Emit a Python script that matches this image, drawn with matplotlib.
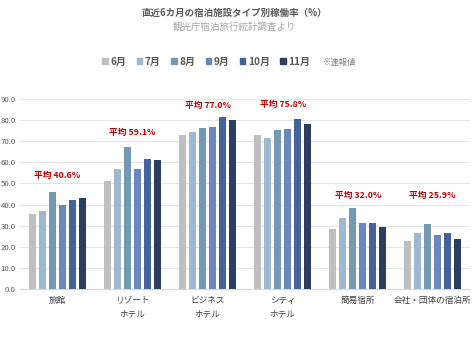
import matplotlib
matplotlib.use("Agg")
import matplotlib.pyplot as plt
import numpy as np
from matplotlib.patches import Patch

plt.rcParams["font.family"] = ["Noto Sans CJK JP", "DejaVu Sans"]

categories = ["旅館", "リゾート\nホテル", "ビジネス\nホテル", "シティ\nホテル", "簡易宿所", "会社・団体の宿泊所"]
months = ["6月", "7月", "8月", "9月", "10月", "11月"]
rates = {
    "6月": [35.3, 51.0, 72.8, 72.8, 28.3, 22.7],
    "7月": [37.1, 56.9, 74.6, 71.7, 33.5, 26.5],
    "8月": [46.1, 67.1, 76.3, 75.5, 38.4, 30.8],
    "9月": [39.8, 56.9, 76.8, 75.8, 31.1, 25.4],
    "10月": [42.2, 61.5, 81.4, 80.6, 31.3, 26.5],
    "11月": [43.0, 61.0, 80.1, 78.4, 29.5, 23.5],
}
averages = [40.6, 59.1, 77.0, 75.8, 32.0, 25.9]
avg_label_y = [53.6, 74.0, 86.8, 87.2, 44.5, 44.5]
yticks = [0, 10, 20, 30, 40, 50, 60, 70, 80, 90]

colors = ["#bfbfbf", "#9db8d0", "#7399b3", "#6a88bd", "#45629a", "#2c3e5f"]

fig = plt.figure(figsize=(4.74, 3.41), dpi=100)
ax = fig.add_axes([0.042, 0.1525, 0.95, 0.557])

x = np.arange(len(categories))
step = 0.1333
width = 0.1
for i, m in enumerate(months):
    ax.bar(x + (i - 2.5) * step, rates[m], width, color=colors[i], zorder=3)

for xi, avg, ly in zip(x, averages, avg_label_y):
    ax.text(xi, ly, f"平均 {avg:.1f}%", ha="center", va="center",
            color="#c00000", fontsize=6.3, fontweight="bold")

ax.set_xlim(-0.5, len(categories) - 0.5)
ax.set_ylim(0, 90)
ax.set_yticks(yticks)
ax.set_yticklabels([f"{v:.1f}" for v in yticks])
ax.set_xticks(x)
ax.set_xticklabels(categories, linespacing=1.65)
ax.tick_params(axis="y", length=0, labelsize=5.6, labelcolor="#595959", pad=3)
ax.tick_params(axis="x", length=0, labelsize=6.2, labelcolor="#404040", pad=5)
ax.grid(axis="y", color="#e6e6e6", linewidth=0.8, zorder=0)
for s in ["top", "right", "left"]:
    ax.spines[s].set_visible(False)
ax.spines["bottom"].set_color("#d9d9d9")
ax.spines["bottom"].set_linewidth(0.8)

fig.text(0.495, 1 - 13 / 341, "直近6カ月の宿泊施設タイプ別稼働率（%）", ha="center", va="center",
         fontsize=6.8, fontweight="bold", color="#595959")
fig.text(0.495, 1 - 27 / 341, "観光庁宿泊旅行統計調査より", ha="center", va="center",
         fontsize=6.8, color="#a6a6a6")

handles = [Patch(color=c) for c in colors] + [Patch(color="none")]
labels = months + ["※速報値"]
leg = fig.legend(handles, labels, loc="center", bbox_to_anchor=(0.49, 1 - 62 / 341),
                 ncol=7, frameon=False, fontsize=7.2, handlelength=0.55, handleheight=0.55,
                 handletextpad=0.25, columnspacing=1.05)
for t in leg.get_texts():
    t.set_color("#595959")
    t.set_fontweight("bold")
leg.get_texts()[-1].set_fontsize(6)
leg.get_texts()[-1].set_fontweight("normal")
leg.get_texts()[-1].set_color("#7f7f7f")
# the empty handle of the last entry leaves a gap; pull the note closer
leg.get_texts()[-1].set_position((-6, 0))

fig.savefig("out.png", dpi=100)
